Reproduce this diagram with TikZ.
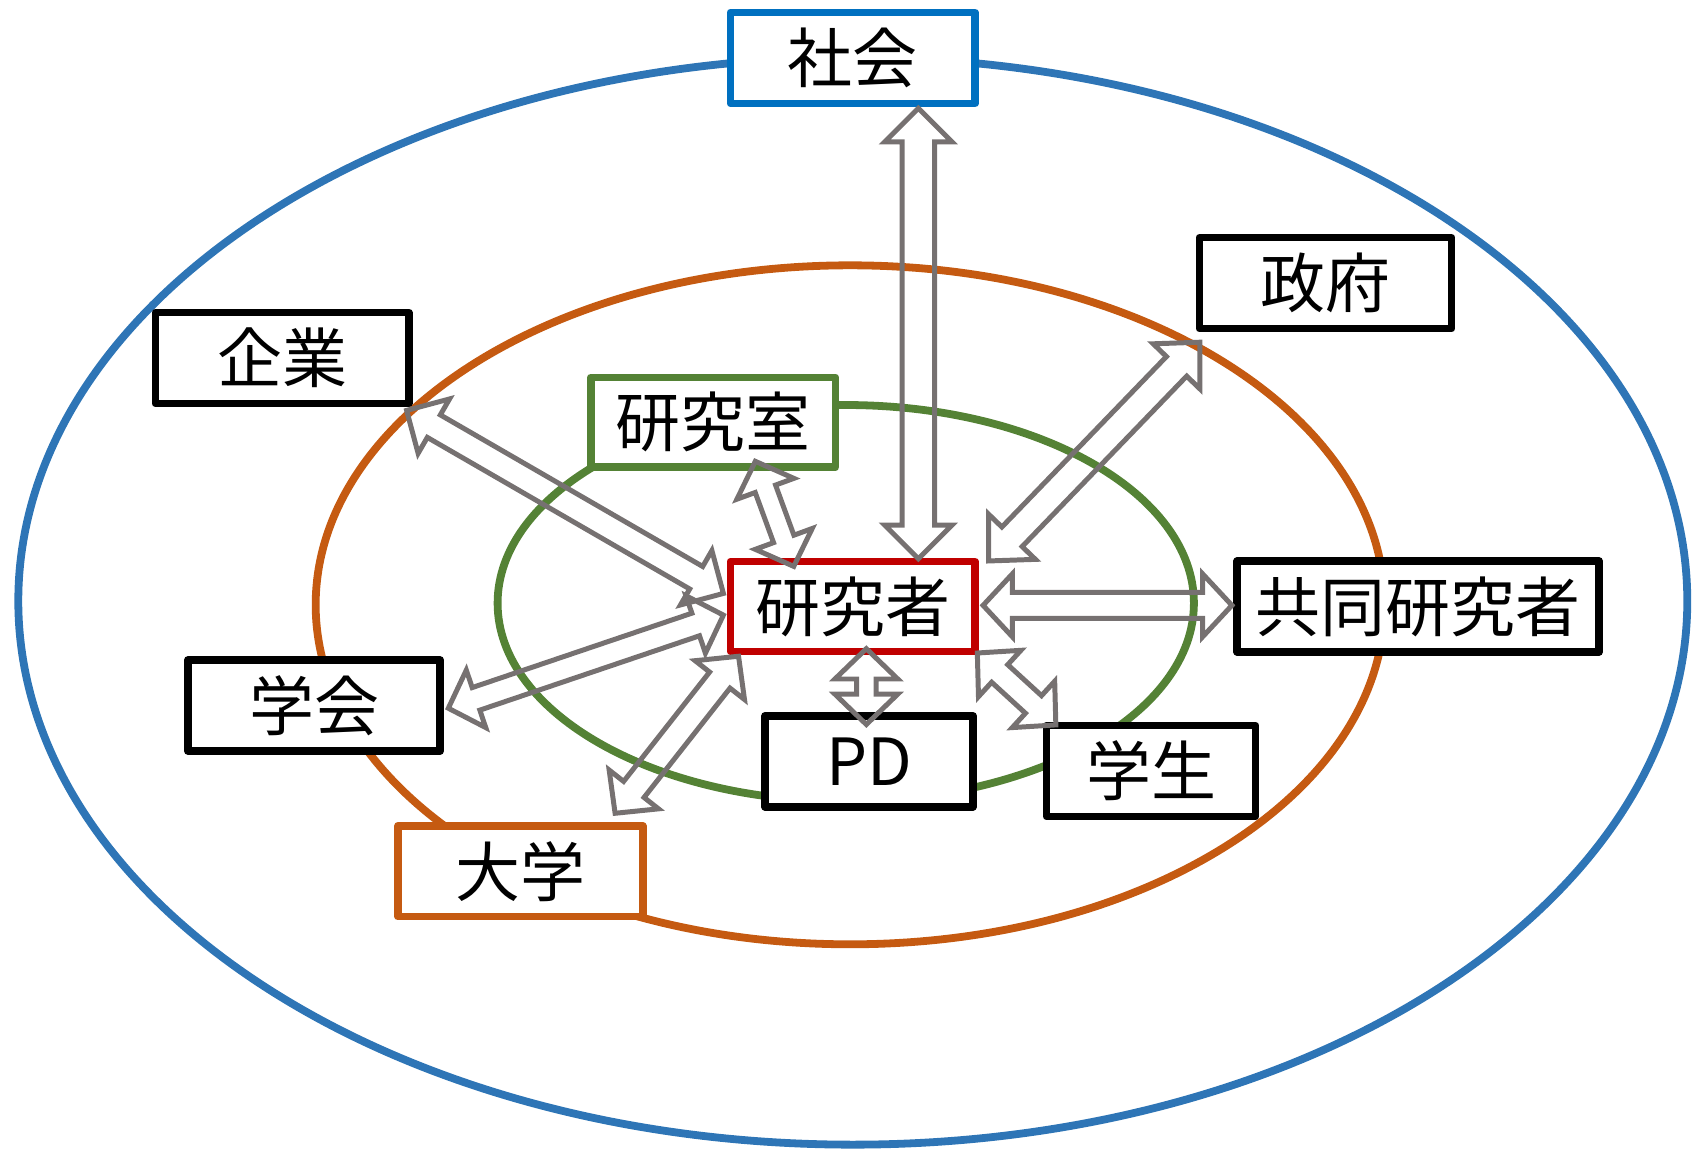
\documentclass[tikz,border=0pt]{standalone}
\usepackage{fontspec}
\setmainfont{Noto Sans CJK JP}
\usetikzlibrary{calc}
\definecolor{blueE}{HTML}{2E75B6}
\definecolor{blueB}{HTML}{0070C0}
\definecolor{orangeC}{HTML}{C55A11}
\definecolor{greenC}{HTML}{548235}
\definecolor{redC}{HTML}{C00000}
\definecolor{grayA}{HTML}{767171}
\tikzset{
  box/.style={draw=black, fill=white, line width=3.5pt, line join=round, inner sep=0pt,
    minimum height=42pt, font=\fontsize{30}{32}\selectfont, text=black},
  ring/.style={line width=3.6pt},
  arrowline/.style={draw=grayA, line width=2.3pt, line join=miter}
}
% double hollow arrow: #1 start, #2 end, #3 shaft half-width, #4 head half-width, #5 head length
\newcommand\dblarr[5]{%
  \coordinate (ha) at ($(#1)!#5!(#2)$);
  \coordinate (hb) at ($(#2)!#5!(#1)$);
  \draw[arrowline] (#1) -- ($(ha)!#4!90:(#2)$) -- ($(ha)!#3!90:(#2)$)
    -- ($(hb)!#3!-90:(#1)$) -- ($(hb)!#4!-90:(#1)$) -- (#2)
    -- ($(hb)!#4!90:(#1)$) -- ($(hb)!#3!90:(#1)$)
    -- ($(ha)!#3!-90:(#2)$) -- ($(ha)!#4!-90:(#2)$) -- cycle;
}
\begin{document}
\begin{tikzpicture}[x=0.5pt, y=-0.5pt]
\useasboundingbox (0,0) rectangle (1568,1061);
% rings
\draw[ring, blueE] (787.5,555) ellipse [x radius=385.3pt, y radius=251pt];
\draw[ring, orangeC] (785,558.5) ellipse [x radius=246.75pt, y radius=156.75pt];
\draw[ring, greenC] (781,557) ellipse [x radius=160.75pt, y radius=91.5pt];
% boxes
\node[box, draw=blueB, minimum width=113pt] (shakai) at (787.5,53.5) {社会};
\node[box, minimum width=116.5pt] (seifu) at (1224,261.5) {政府};
\node[box, minimum width=117pt] (kigyo) at (260.5,330.5) {企業};
\node[box, draw=greenC, minimum width=113pt, minimum height=41.5pt] (kshitsu) at (658.5,390) {研究室};
\node[box, draw=redC, minimum width=113pt, minimum height=41.5pt] (kensha) at (787.5,560) {研究者};
\node[box, minimum width=167pt] (kyodo) at (1309.5,560) {共同研究者};
\node[box, minimum width=116.5pt] (gakkai) at (290,651.5) {学会};
\node[box, minimum width=96pt] (pd) at (802.5,703) {PD};
\node[box, minimum width=96.5pt] (gakusei) at (1063,712) {学生};
\node[box, draw=orangeC, minimum width=113pt] (daigaku) at (480.5,804.5) {大学};
% arrow end points
\coordinate (a1) at ($(shakai)+(60.5,46.5)$);
\coordinate (b1) at ($(kensha)+(60.5,-44)$);
\coordinate (a2) at ($(seifu)+(-116,54.5)$);
\coordinate (b2) at ($(kensha)+(125.5,-42)$);
\coordinate (a3) at ($(kigyo)+(115,48.5)$);
\coordinate (b3) at ($(kensha)+(-119.5,-12)$);
\coordinate (a4) at ($(kshitsu)+(39,36)$);
\coordinate (b4) at ($(kensha)+(-54.5,-37)$);
\coordinate (a5) at ($(kensha)+(120.3,-1)$);
\coordinate (b5) at ($(kyodo)+(-171.9,-1)$);
\coordinate (a6) at ($(gakkai)+(124,2.5)$);
\coordinate (b6) at ($(kensha)+(-119.5,8)$);
\coordinate (a7) at ($(daigaku)+(87.5,-53.5)$);
\coordinate (b7) at ($(kensha)+(-105.5,46)$);
\coordinate (a8) at ($(kensha)+(12.5,39)$);
\coordinate (b8) at ($(pd)+(-2.5,-34)$);
\coordinate (a9) at ($(kensha)+(115,43)$);
\coordinate (b9) at ($(gakusei)+(-88,-42.6)$);
% arrows
\dblarr{a1}{b1}{7.5pt}{15.5pt}{15.5pt}
\dblarr{a2}{b2}{6.5pt}{15pt}{15.5pt}
\dblarr{a3}{b3}{6pt}{14.5pt}{14.5pt}
\dblarr{a4}{b4}{5pt}{14pt}{13.5pt}
\dblarr{a5}{b5}{6pt}{14.5pt}{13.5pt}
\dblarr{a6}{b6}{5.5pt}{14pt}{13.5pt}
\dblarr{a7}{b7}{6pt}{14.5pt}{14pt}
\dblarr{a8}{b8}{4.5pt}{14.5pt}{14pt}
\dblarr{a9}{b9}{5.5pt}{14.5pt}{14pt}
\end{tikzpicture}
\end{document}
